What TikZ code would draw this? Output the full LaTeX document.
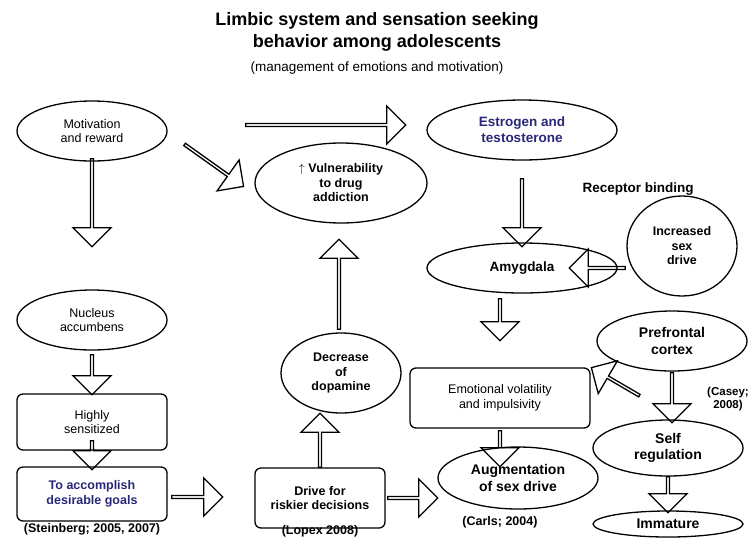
\documentclass[tikz,border=0pt]{standalone}
\usepackage{fontspec}
\setmainfont{Liberation Sans}
\usetikzlibrary{shapes,shapes.arrows,calc}
\definecolor{navy}{RGB}{40,40,120}
\newcommand{\bigarrow}[3][38]{%
  \path let \p1=#2, \p2=#3, \n1={atan2(\y2-\y1,\x2-\x1)}, \n2={veclen(\x2-\x1,\y2-\y1)} in
    node[blockarrow, minimum height=\n2, minimum width=#1, rotate=\n1] at ($#2!0.5!#3$) {};}
\begin{document}
\begin{tikzpicture}[x=1pt,y=-1pt,
  oval/.style={ellipse, draw, line width=1.3pt, align=center, inner sep=0pt, font=\fontsize{12.5}{14.5}\selectfont},
  box/.style={rounded corners=6pt, draw, line width=1.3pt, align=center, font=\fontsize{12.5}{14.5}\selectfont},
  blockarrow/.style={single arrow, draw, line width=1.3pt, single arrow head extend=8pt, single arrow head indent=0pt, inner sep=0pt},
  note/.style={font=\fontsize{12.5}{14.5}\selectfont\bfseries, align=center}]
\useasboundingbox (0,0) rectangle (754,539);

% title
\node[font=\fontsize{18}{22}\selectfont\bfseries, align=center] (title) at (377,32) {Limbic system and sensation seeking\\behavior among adolescents};
\node[font=\fontsize{13.5}{16}\selectfont] (sub) at (377,68) {(management of emotions and motivation)};

% left column
\node[oval, minimum width=150, minimum height=60] (motiv) at (92,131) {Motivation\\and reward};
\node[oval, minimum width=150, minimum height=60] (nucleus) at (92,320) {Nucleus\\accumbens};
\node[box, minimum width=150, minimum height=56] (sensit) at (92,422) {Highly\\sensitized};
\node[box, minimum width=150, minimum height=54, text=navy, font=\fontsize{12.5}{14.5}\selectfont\bfseries] (goals) at (92,494) {To accomplish\\desirable goals};
\node[note] (steinberg) at (92,529) {(Steinberg; 2005, 2007)};

% middle column
\node[oval, minimum width=172, minimum height=80, font=\fontsize{12.5}{14.5}\selectfont\bfseries] (vulner) at (341,183) {$\uparrow$ Vulnerability\\to drug\\addiction};
\node[oval, minimum width=120, minimum height=80, font=\fontsize{12.5}{14.5}\selectfont\bfseries] (dopa) at (341,373) {Decrease\\of\\dopamine};
\node[box, minimum width=130, minimum height=60, font=\fontsize{12.5}{14.5}\selectfont\bfseries] (drive) at (320,498) {Drive for\\riskier decisions};
\node[note] (lopex) at (320,531) {(Lopex 2008)};

% right column
\node[oval, minimum width=190, minimum height=60, text=navy, font=\fontsize{13.5}{16}\selectfont\bfseries] (estro) at (522,130) {Estrogen and\\testosterone};
\node[note, font=\fontsize{13.5}{16}\selectfont\bfseries] (receptor) at (638,189) {Receptor binding};
\node[oval, minimum width=190, minimum height=50, font=\fontsize{13.5}{16}\selectfont\bfseries] (amyg) at (522,268) {Amygdala};
\node[oval, minimum width=110, minimum height=100, font=\fontsize{12.5}{14.5}\selectfont\bfseries] (sexdrive) at (682,246) {Increased\\sex\\drive};
\node[oval, minimum width=150, minimum height=60, font=\fontsize{14}{16.5}\selectfont\bfseries] (pfc) at (672,341) {Prefrontal\\cortex};
\node[box, minimum width=180, minimum height=60] (emot) at (500,398) {Emotional volatility\\and impulsivity};
\node[note, font=\fontsize{11.5}{13.5}\selectfont\bfseries] (casey) at (728,399) {(Casey;\\2008)};
\node[oval, minimum width=150, minimum height=56, font=\fontsize{14}{16.5}\selectfont\bfseries] (selfreg) at (668,448) {Self\\regulation};
\node[oval, minimum width=160, minimum height=62, font=\fontsize{14}{16.5}\selectfont\bfseries] (augm) at (518,478) {Augmentation\\of sex drive};
\node[note] (carls) at (500,522) {(Carls; 2004)};
\node[oval, minimum width=150, minimum height=26, font=\fontsize{14}{16.5}\selectfont\bfseries] (immat) at (668,524) {Immature};

% block arrows
\bigarrow{(92,158)}{(92,246)}
\bigarrow{(92,354)}{(92,394)}
\bigarrow{(92,440)}{(92,469)}
\bigarrow{(171,497)}{(222,497)}
\bigarrow{(387,498)}{(437,498)}
\bigarrow{(320,468)}{(320,414)}
\bigarrow{(339,330)}{(339,240)}
\bigarrow{(184,144)}{(243,186)}
\bigarrow{(245,125)}{(405,125)}
\bigarrow{(522,178)}{(522,246)}
\bigarrow{(626,268)}{(570,268)}
\bigarrow{(500,298)}{(500,340)}
\bigarrow{(500,430)}{(500,466)}
\bigarrow{(640,396)}{(592,368)}
\bigarrow{(672,372)}{(672,422)}
\bigarrow{(668,476)}{(668,512)}
\end{tikzpicture}
\end{document}
